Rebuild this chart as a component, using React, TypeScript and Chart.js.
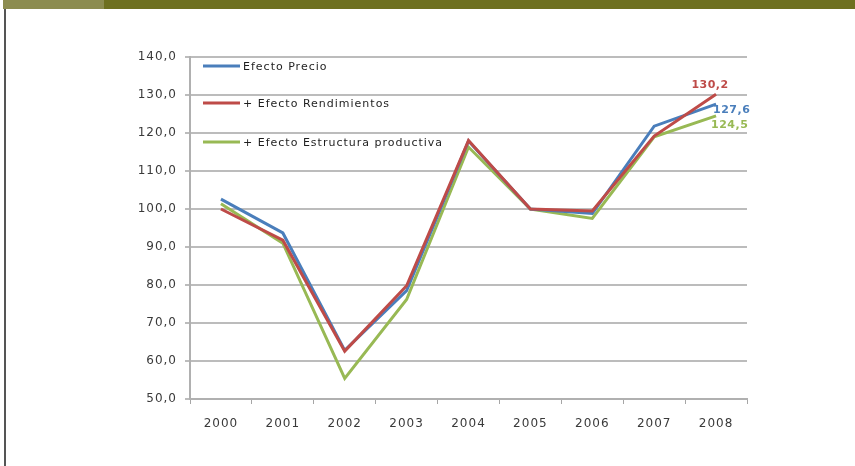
import React, { useEffect, useRef } from "react";
import { Chart, registerables } from "chart.js";

Chart.register(...registerables);

const years = ["2000", "2001", "2002", "2003", "2004", "2005", "2006", "2007", "2008"];
const seriesNames = ["Efecto Precio", "+ Efecto Rendimientos", "+ Efecto Estructura productiva"];
const efectoPrecio = [102.6, 93.7, 62.8, 78.5, 117.9, 100.0, 98.8, 121.8, 127.6];
const efectoRendimientos = [100.0, 91.8, 62.6, 79.8, 118.0, 100.0, 99.5, 119.2, 130.2];
const efectoEstructura = [101.4, 91.0, 55.4, 76.2, 116.3, 100.0, 97.5, 119.0, 124.5];
const seriesColors = ["#4a7ebb", "#be4b48", "#98b954"];
const seriesOrder = [1, 0, 2];
const endLabels = ["127,6", "130,2", "124,5"];

const fmt = (v: number) => v.toFixed(1).replace(".", ",");

const overlayPlugin = {
  id: "overlay",
  beforeDraw(chart: any) {
    chart.ctx.letterSpacing = "1px";
  },
  afterDraw(chart: any) {
    const ctx = chart.ctx;
    const area = chart.chartArea;
    ctx.save();
    ctx.letterSpacing = "1px";
    // legend inside plot
    const offs = [9, 46, 85];
    chart.data.datasets.forEach((ds: any, i: number) => {
      const y = area.top + offs[i];
      const x0 = area.left + 13;
      ctx.strokeStyle = ds.borderColor;
      ctx.lineWidth = 3;
      ctx.beginPath();
      ctx.moveTo(x0, y);
      ctx.lineTo(x0 + 37, y);
      ctx.stroke();
      ctx.fillStyle = "#1e1e1e";
      ctx.font = "11px 'DejaVu Sans'";
      ctx.textAlign = "left";
      ctx.textBaseline = "middle";
      ctx.fillText(ds.label, x0 + 40, y + 1);
    });
    // end labels
    const place = [
      { dx: -3, dy: 6, align: "left" },
      { dx: -6, dy: -9, align: "center" },
      { dx: -5, dy: 9, align: "left" },
    ];
    ctx.letterSpacing = "0.5px";
    chart.data.datasets.forEach((ds: any, i: number) => {
      const meta = chart.getDatasetMeta(i);
      const pt = meta.data[meta.data.length - 1];
      ctx.fillStyle = ds.borderColor;
      ctx.font = "bold 11px 'DejaVu Sans'";
      ctx.textAlign = place[i].align;
      ctx.textBaseline = "middle";
      ctx.fillText(endLabels[i], pt.x + place[i].dx, pt.y + place[i].dy);
    });
    ctx.restore();
  },
};

export default function App() {
  const ref = useRef<HTMLCanvasElement | null>(null);
  useEffect(() => {
    if (!ref.current) return;
    const data = [efectoPrecio, efectoRendimientos, efectoEstructura];
    const chart = new Chart(ref.current, {
      type: "line",
      data: {
        labels: years,
        datasets: data.map((d, i) => ({
          label: seriesNames[i],
          data: d,
          order: seriesOrder[i],
          borderColor: seriesColors[i],
          backgroundColor: seriesColors[i],
          borderWidth: 3,
          pointRadius: 0,
          tension: 0,
          fill: false,
        })),
      },
      options: {
        animation: false,
        responsive: false,
        maintainAspectRatio: false,
        layout: { padding: { left: 130, right: 108, top: 57, bottom: 27 } },
        plugins: { legend: { display: false }, tooltip: { enabled: false } },
        scales: {
          x: {
            offset: true,
            grid: {
              display: true,
              drawOnChartArea: false,
              drawTicks: true,
              tickLength: 5,
              color: "#a6a6a6",
              lineWidth: 1,
              offset: true,
            },
            border: { display: true, color: "#b0b0b0", width: 2 },
            ticks: {
              color: "#3a3a3a",
              font: { family: "'DejaVu Sans'", size: 12 },
              padding: 13,
              maxRotation: 0,
            },
            afterFit: (s: any) => {
              s.height = 40;
            },
          },
          y: {
            min: 50,
            max: 140,
            ticks: {
              stepSize: 10,
              color: "#3a3a3a",
              font: { family: "'DejaVu Sans'", size: 12 },
              padding: 8,
              callback: (v: any) => fmt(Number(v)),
            },
            grid: {
              color: "#bcbcbc",
              lineWidth: 2,
              tickLength: 5,
              drawTicks: true,
            },
            border: { display: true, color: "#b0b0b0", width: 2 },
            afterFit: (s: any) => {
              s.width = 60;
            },
          },
        },
      },
      plugins: [overlayPlugin],
    });
    return () => chart.destroy();
  }, []);

  return (
    <div style={{ position: "fixed", left: 0, top: 0, width: 855, height: 466, background: "#fff", overflow: "hidden" }}>
      <div style={{ position: "absolute", left: 3, top: 0, width: 101, height: 9, background: "#8c8c50" }} />
      <div style={{ position: "absolute", left: 104, top: 0, width: 751, height: 9, background: "#6e7020" }} />
      <div style={{ position: "absolute", left: 4, top: 9, width: 2, height: 457, background: "#555" }} />
      <canvas ref={ref} width={855} height={466} style={{ position: "absolute", left: 0, top: 0, width: 855, height: 466 }} />
    </div>
  );
}
